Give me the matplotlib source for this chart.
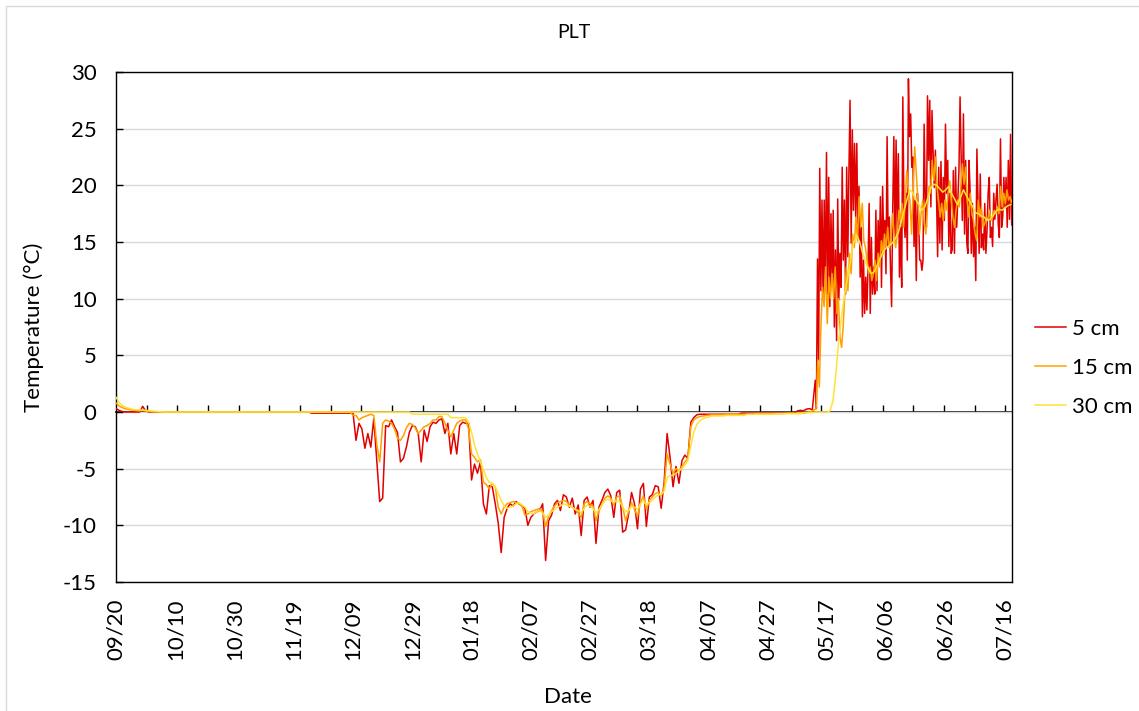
import numpy as np
import pandas as pd
import matplotlib
matplotlib.use("Agg")
import matplotlib.pyplot as plt
from matplotlib.patches import Rectangle

plt.rcParams['font.family'] = ['Lato', 'DejaVu Sans']
plt.rcParams['axes.unicode_minus'] = False

# --- data ---
start_date = "2019-09-20"
label_step = 20          # days between date labels
n_labels = 16
minor_step = 10.35       # spacing of the small ticks on the 0 line (days)
x_end = 302.4

series_names = ["5 cm", "15 cm", "30 cm"]
series_colors = ["#E10000", "#FFA000", "#FFE236"]

# 5 cm, daily values 09/20 -> 05/12 (day 0..235)
t5_winter = ([0.3, 0.15, 0.05] + [0.0] * 6 + [0.5, 0.1] + [0.0] * 55 + [-0.1] * 14
             + [-0.1, -2.5, -1.0, -1.5, -3.2, -1.9, -3.1, -0.6, -4.3, -7.9,
                -7.6, -1.2, -1.3, -0.7, -1.3, -1.8, -4.4, -4.1, -3.1, -1.8,
                -1.2, -1.3, -1.9, -4.4, -1.6, -2.6, -1.3, -0.9, -1.0, -0.7,
                -0.6, -1.9, -1.0, -3.7, -1.9, -3.7, -1.2, -0.9, -1.0, -1.0,
                -6.0, -4.6, -5.4, -4.4, -8.1, -9.0]
             + [-6.5, -6.6, -8.1, -9.8, -12.4, -9.3, -8.5, -8.1, -8.3, -7.9,
                -8.1, -8.3, -8.5, -10.0, -9.3, -9.0, -8.8, -8.7, -8.1, -13.1,
                -9.6, -9.1, -8.1, -7.8, -8.7, -7.3, -7.5, -8.4, -7.6, -9.0,
                -8.2, -10.9, -7.8, -7.5, -8.4, -7.8, -11.6, -8.4, -7.8, -7.1,
                -6.8, -7.4, -9.3, -7.1, -6.9, -10.6, -10.4, -9.0, -7.1, -8.1,
                -10.3, -6.8, -6.3, -10.1, -7.5, -7.3, -6.5, -6.6, -8.5, -6.2,
                -1.9, -4.0, -6.6, -4.8, -6.3, -4.3, -3.8, -4.1, -0.9, -0.5]
             + [-0.25] + [-0.2] * 14 + [-0.1] * 19 + [0.1, 0.15, 0.1, 0.25, 0.3, 0.2])

# 5 cm, readings from day 236 to the end (about every 9 h)
t5_summer = [2.8, 0.3, 13.5, 4.6, 21.5, 10.7, 18.7, 9.9, 18.7, 10.7, 22.9, 10.4, 20.7, 9.3,
             17.5, 11.6, 17.8, 7.5, 14.3, 6.3, 18.8, 9.9, 14.0, 11.0, 21.6, 13.4, 18.7,
             10.4, 21.6, 13.7, 21.3, 27.5, 14.9, 24.9, 17.8, 23.7, 17.2, 23.7, 15.4, 19.9,
             11.9, 16.3, 8.4, 13.4, 8.7, 11.9, 9.0, 12.8, 18.4, 8.7, 15.4, 10.4, 12.8,
             10.4, 17.8, 10.7, 16.9, 13.4, 19.0, 11.0, 19.9, 14.9, 16.9, 12.2, 24.3, 14.6,
             17.2, 12.8, 9.3, 17.8, 24.3, 15.1, 24.0, 15.7, 22.8, 11.9, 16.3, 11.0,
             27.8, 17.8, 15.4, 19.3, 13.4, 29.4, 24.3, 26.3, 21.6, 22.5, 14.6, 18.7, 11.6,
             19.3, 17.5, 13.4, 13.4, 12.5, 13.4, 25.4, 18.7, 16.3, 27.9, 22.2, 27.5, 18.1,
             26.6, 22.8, 19.8, 23.1, 19.3, 13.7, 21.6, 14.9, 22.1, 14.3, 20.7, 16.9, 25.4,
             19.3, 22.2, 14.6, 19.3, 14.0, 14.3, 21.3, 14.0, 21.6, 16.3, 18.7, 21.3, 27.8,
             22.2, 16.9, 26.3, 15.7, 22.2, 14.9, 14.0, 22.2, 19.3, 14.0, 18.4, 13.7, 16.3,
             11.6, 23.2, 18.4, 14.0, 21.0, 14.5, 15.7, 14.3, 18.4, 14.0, 16.0, 19.3, 20.7,
             15.4, 16.3, 14.6, 19.3, 17.0, 18.7, 20.1, 16.6, 15.4, 24.1, 16.3, 17.2, 20.7,
             18.1, 20.7, 16.3, 22.2, 17.0, 24.5, 16.5]

# 15 cm, daily values day 0..235
t15_winter = ([0.8, 0.55, 0.4, 0.3, 0.25, 0.2, 0.15, 0.12, 0.1, 0.15, 0.08, 0.05, 0.03]
              + [0.0] * 67
              + [-0.3, -0.3, -0.7, -0.5, -0.4, -0.3, -0.2, -0.3, -2.8, -4.4,
                 -1.0, -0.7, -0.8, -1.0, -1.5, -2.3, -2.5, -2.1, -1.4, -1.0,
                 -1.1, -1.4, -1.9, -1.6, -1.3, -1.2, -1.0, -0.7, -0.7, -0.4,
                 -0.4, -1.0, -1.6, -2.2, -1.6, -1.0, -0.8, -0.7, -0.7, -1.5,
                 -3.7, -4.0, -4.4, -4.2, -6.2, -6.4, -6.8, -6.3, -6.6, -8.4,
                 -9.0, -8.4, -8.1, -8.0, -7.9, -8.0, -8.1, -8.3, -9.1, -9.0,
                 -8.8, -8.7, -8.6, -8.5, -8.8, -10.1, -9.2, -8.7, -8.3, -8.0,
                 -7.9, -7.8, -7.9, -8.2, -8.4, -8.6, -8.9, -9.3, -8.1, -7.9,
                 -8.1, -8.3, -9.6, -8.7, -8.2, -7.6, -7.4, -7.6, -8.2, -7.5,
                 -7.4, -8.4, -9.6, -8.8, -8.0, -8.6, -9.2, -8.0, -7.4, -8.6,
                 -7.8, -7.5, -7.2, -7.1, -7.4, -6.6, -3.7, -4.6, -5.4, -5.0,
                 -5.2, -4.8, -4.4, -4.1]
              + [-1.3, -0.7, -0.5, -0.42, -0.36, -0.32, -0.28] + [-0.25] * 5 + [-0.2] * 10
              + [-0.15] * 10 + [-0.1] * 7 + [-0.05, 0.0, 0.1])

# 15 cm, readings from day 236.3 to the end (about every 13 h)
t15_summer = [0.3, 4.6, 2.2, 7.5, 11.0, 9.3, 12.8, 7.8, 11.9, 10.0, 12.2, 10.0, 12.8, 8.7,
              10.0, 6.6, 5.7, 7.5, 10.4, 12.8, 10.7, 14.0, 12.2, 15.7, 14.5, 17.2, 15.1,
              19.0, 16.3, 18.4, 15.1, 14.5, 13.4, 12.2, 12.8, 11.6, 12.2, 13.4, 11.6, 14.0,
              12.8, 15.1, 13.9, 15.7, 14.5, 16.3, 14.5, 15.1, 17.5, 15.7, 14.5, 15.7, 17.8,
              16.9, 18.4, 16.3, 18.7, 21.3, 19.5,
              18.7, 15.7, 19.3, 23.4, 21.0, 18.7, 15.7, 17.5, 18.7, 16.6, 15.7, 18.1, 19.9,
              19.3, 22.2, 20.4, 22.5, 19.9, 18.7, 17.2, 18.4, 16.9, 18.7, 17.8, 19.3, 20.4,
              18.7, 17.2, 16.3, 17.8, 18.7, 18.1, 19.9, 21.9, 20.1, 21.6, 18.7, 17.2, 19.3,
              17.5, 16.9, 15.7, 15.1, 18.7, 17.2, 18.1, 16.3, 16.6, 17.2, 16.9, 17.8, 16.9,
              17.2, 17.8, 17.5, 18.1, 17.5, 19.9, 18.1, 19.3, 18.4, 19.6, 18.7, 19.0, 18.5]

# 30 cm, daily values day 0..302
t30 = ([1.3, 0.85, 0.6, 0.45, 0.35, 0.28, 0.22, 0.2, 0.18, 0.17, 0.15, 0.12, 0.1, 0.07,
        0.05, 0.02] + [0.0] * 84 + [-0.2] * 13 + [-0.5] * 6
       + [-0.9, -1.8, -2.9, -3.7, -4.4, -5.1, -5.8]
       + [-6.2, -6.3, -6.6, -7.2, -7.8, -8.3, -8.5, -8.4, -8.3, -8.1,
          -8.0, -8.2, -8.4, -8.8, -8.9, -9.0, -8.8, -8.7, -8.9, -9.3,
          -9.1, -8.8, -8.6, -8.4, -8.3, -8.1, -8.2, -8.3, -8.4, -8.6,
          -8.7, -8.9, -8.5, -8.2, -8.3, -8.5, -8.9, -8.6, -8.2, -7.8,
          -7.7, -7.8, -8.0, -7.8, -7.9, -8.4, -8.8, -8.7, -8.3, -8.4,
          -8.6, -8.1, -7.8, -8.2, -8.0, -7.8, -7.5, -7.3, -7.3, -7.0,
          -5.8, -5.6, -5.6, -5.4, -5.2, -5.0, -4.7, -4.3, -3.0, -1.8,
          -1.1, -0.8, -0.6, -0.5, -0.45]
       + [-0.35] * 5 + [-0.3] * 7 + [-0.2] * 10 + [-0.15] * 9 + [-0.05] * 4
       + [0.0, 0.0, 0.0, 0.0, 0.0, 0.1, 1.0, 3.5, 6.5, 8.7,
          10.5, 12.0, 13.5, 15.0, 15.6, 15.0, 14.0, 13.2, 12.6, 12.2,
          12.4, 13.0, 13.6, 14.2, 14.5, 14.7, 14.9, 15.3, 15.8, 16.8,
          17.8, 18.8, 19.6, 19.3, 18.7, 18.3, 17.8, 18.1, 18.9, 19.8,
          20.1, 20.0, 19.7, 19.4, 19.6, 19.9, 19.3, 18.8, 18.3, 18.9,
          19.6, 19.1, 18.6, 18.2, 17.6, 17.5, 17.3, 17.2, 16.9, 17.0,
          17.3, 17.7, 17.9, 17.8, 18.0, 18.2, 18.3])

# --- build x (days since 09/20) ---
x5 = np.concatenate([np.arange(len(t5_winter)), np.linspace(236.0, 302.3, len(t5_summer))])
y5 = np.array(t5_winter + t5_summer)
x15 = np.concatenate([np.arange(len(t15_winter)), np.linspace(236.3, 302.3, len(t15_summer))])
y15 = np.array(t15_winter + t15_summer)
x30 = np.arange(len(t30))
y30 = np.array(t30)

W, H = 1139, 711
fig = plt.figure(figsize=(W / 100, H / 100), dpi=100)
ax = fig.add_axes([116 / W, 1 - 582 / H, (1012 - 116) / W, (582 - 72) / H])

lines = []
for xs, ys, c, lab in zip([x5, x15, x30], [y5, y15, y30], series_colors, series_names):
    ln, = ax.plot(xs, ys, color=c, lw=1.1, label=lab, zorder=3)
    lines.append(ln)

ax.set_xlim(0, x_end)
ax.set_ylim(-15, 30)
ax.set_yticks(np.arange(-15, 31, 5))
ax.yaxis.grid(True, color="#d9d9d9", lw=1.0)
ax.set_axisbelow(True)
ax.tick_params(axis="y", direction="in", length=5, width=1, labelsize=16, pad=14)

dates = pd.date_range(start_date, periods=n_labels, freq=f"{label_step}D")
ax.set_xticks(np.arange(n_labels) * label_step)
ax.set_xticklabels(dates.strftime("%m/%d"), rotation=90)
ax.tick_params(axis="x", length=0, labelsize=16, pad=12)

for sp in ax.spines.values():
    sp.set_color("black")
    sp.set_linewidth(1.0)

# zero line with the small tick marks
sec = ax.secondary_xaxis(15 / 45)
sec.set_xticks(np.arange(1, 30) * minor_step)
sec.tick_params(direction="in", length=5, width=1, labelbottom=False, labeltop=False)
sec.spines["bottom"].set_linewidth(1.2)

fig.text(574 / W, 1 - 33 / H, "PLT", ha="center", va="center", fontsize=14)
fig.text(34 / W, 1 - 327 / H, "Temperature (°C)", ha="center", va="center",
         rotation=90, fontsize=16)
fig.text(568 / W, 1 - 697 / H, "Date", ha="center", va="center", fontsize=16)

fig.legend(handles=lines, loc="upper left", bbox_to_anchor=(1026 / W, 1 - 310 / H),
           frameon=False, fontsize=16, handlelength=1.4, handletextpad=0.25,
           labelspacing=0.85, borderaxespad=0)

fig.patches.append(Rectangle((6 / W, -0.01), 1.0, 1 - 6 / H + 0.01,
                             transform=fig.transFigure, fill=False,
                             edgecolor="#d9d9d9", lw=1.0))

fig.savefig("out.png", dpi=100)
